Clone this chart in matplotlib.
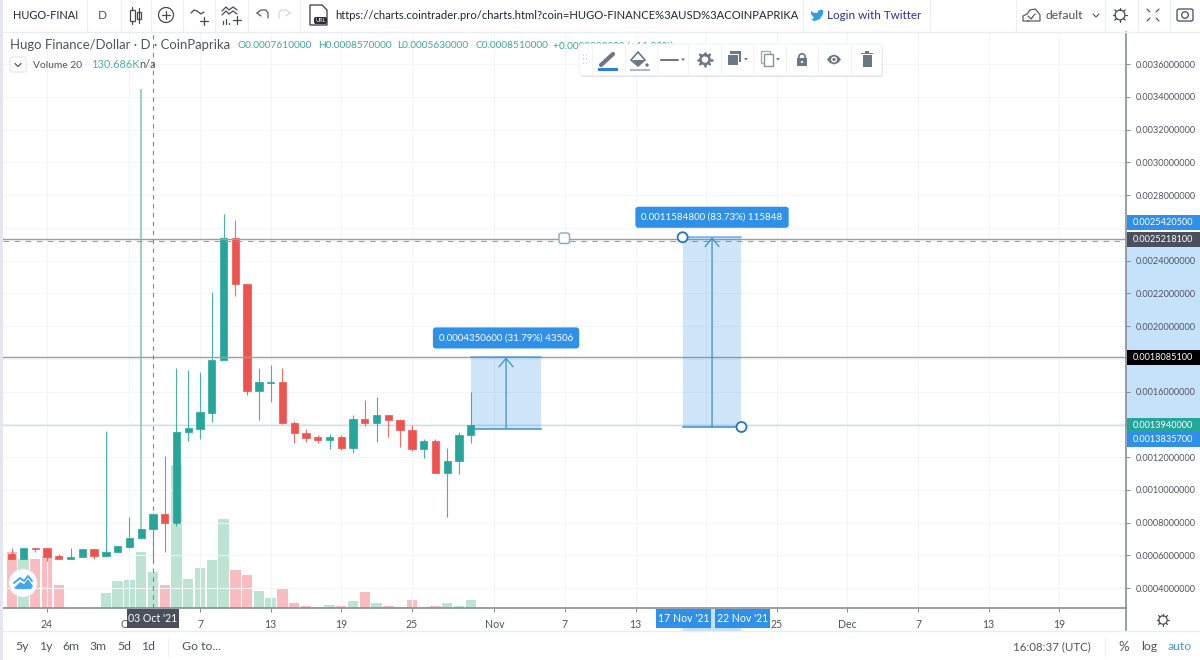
# -*- coding: utf-8 -*-
""" Hugo Finance / Dollar daily candles, screenshot of a trading chart page. """
import matplotlib
matplotlib.use("Agg")
import matplotlib.pyplot as plt
import numpy as np
from matplotlib.patches import Circle, FancyBboxPatch, Polygon, Rectangle

plt.rcParams['font.family'] = ['Lato', 'DejaVu Sans']

# days counted from 24 Sep 2021, prices in millionths of a dollar
days = list(range(-3, 37))
opens = [608, 577, 646, 644, 595, 577, 589, 640, 597, 620, 652, 704, 761, 851, 795, 1353, 1373, 1471, 1792, 2537,
         2256, 1603, 1652, 1660, 1409, 1348, 1320, 1304, 1320, 1255, 1432, 1409, 1457, 1426, 1365, 1247, 1296, 1104,
         1174, 1334]
highs = [644, 646, 646, 646, 608, 644, 640, 640, 1361, 656, 835, 3447, 857, 1206, 1744, 1731, 1719, 2209, 2684, 2647,
         2256, 1744, 1762, 1745, 1422, 1371, 1334, 1340, 1334, 1457, 1548, 1565, 1457, 1434, 1395, 1308, 1308, 1255,
         1355, 1599]
lows = [577, 577, 620, 565, 577, 577, 589, 577, 597, 620, 646, 699, 563, 622, 779, 1298, 1310, 1414, 1792, 2183,
        1579, 1426, 1536, 1402, 1287, 1292, 1286, 1249, 1243, 1226, 1389, 1292, 1322, 1263, 1238, 1194, 1104, 834,
        1096, 1286]
closes = [577, 646, 638, 589, 577, 589, 640, 597, 620, 656, 707, 762, 851, 795, 1355, 1377, 1475, 1792, 2537, 2256,
          1603, 1658, 1658, 1409, 1348, 1318, 1304, 1320, 1255, 1430, 1408, 1457, 1424, 1363, 1247, 1296, 1104, 1174,
          1334, 1394]
# volume in thousands
volumes = [202, 176, 175, 191, 83, 0, 0, 0, 55, 98, 101, 202, 131, 83, 515, 104, 145, 173, 320, 137,
           119, 61, 36, 68, 18, 7, 4, 11, 7, 26, 59, 18, 8, 4, 29, 4, 8, 19, 8, 29]

price_ticks = [0.0004, 0.0006, 0.0008, 0.0010, 0.0012, 0.0014, 0.0016, 0.0018, 0.0020, 0.0022, 0.0024, 0.0026,
               0.0028, 0.0030, 0.0032, 0.0034, 0.0036]
# these three sit behind the price tags in the screenshot
hidden_price_ticks = [0.0014, 0.0018, 0.0026]
date_ticks = [0, 7, 13, 19, 25, 31, 38, 44, 50, 56, 62, 68, 74, 80, 86]
date_labels = ['24', 'Oct', '7', '13', '19', '25', 'Nov', '7', '13', '', '25', 'Dec', '7', '13', '19']

# the two price range drawings
range_a = (36, 42, 0.00137345, 0.00180851)
range_b = (54, 59, 0.00138357, 0.00254205)
range_a_text = '0.0004350600 (31.79%) 43506'
range_b_text = '0.0011584800 (83.73%) 115848'
line_high = 0.002534
line_mid = 0.00180851
crosshair_price = 0.00252181
last_price = 0.001394
crosshair_day = 9

UP = '#26a69a'
DOWN = '#ef5350'
UP_VOL = '#bde3d3'
DOWN_VOL = '#f9bcc1'
BLUE = '#2e90e8'
LINE_BLUE = '#3b8fd3'
TEXT = '#50535e'
ICON = '#6b7785'
BORDER = '#878c95'
W, H = 1200, 660

fig = plt.figure(figsize=(W / 100, H / 100), dpi=100, facecolor='white')
rect = [3 / W, (H - 608) / H, 1123 / W, 576 / H]

# volume goes in its own axes underneath the candles
ax_vol = fig.add_axes(rect, zorder=1)
ax = fig.add_axes(rect, zorder=2)
ax.patch.set_visible(False)
xlim = (-3.74, 91.67)
ax_vol.set_xlim(xlim)
ax_vol.set_ylim(0, 2074)
ax_vol.axis('off')
ax.set_xlim(xlim)
ax.set_ylim(0.000278, 0.0037956)

is_up = [c >= o for o, c in zip(opens, closes)]
ax_vol.bar(days, volumes, width=0.88, color=[UP_VOL if u else DOWN_VOL for u in is_up], linewidth=0)

o = np.array(opens) / 1e6
h = np.array(highs) / 1e6
l = np.array(lows) / 1e6
c = np.array(closes) / 1e6
colors = [UP if u else DOWN for u in is_up]
# the very tall wick looks wider and paler in the screenshot
wick_colors = list(colors)
wick_colors[11] = '#8cc9c2'
wick_widths = [0.8] * len(days)
wick_widths[11] = 1.5
ax.vlines(days, l, h, colors=wick_colors, linewidth=wick_widths, alpha=0.85, zorder=3)
ax.bar(days, c - o, bottom=o, width=0.62, color=colors, edgecolor=colors, linewidth=0.5, zorder=4)

# grid and axes
ax.set_axisbelow(True)
ax.yaxis.tick_right()
ax.set_yticks(price_ticks)
ax.set_yticklabels(['' if p in hidden_price_ticks else '%.10f' % p for p in price_ticks])
ax.set_xticks(date_ticks)
ax.set_xticklabels(date_labels)
ax.grid(True, color='#f3f5f8', linewidth=0.8)
ax.tick_params(axis='y', length=3, width=0.7, color=BORDER, labelcolor=TEXT, labelsize=6.6, pad=4)
ax.tick_params(axis='x', length=3, width=0.7, color=BORDER, labelcolor=TEXT, labelsize=7.6, pad=5)
for name in ['left', 'top']:
    ax.spines[name].set_visible(False)
for name in ['right', 'bottom']:
    ax.spines[name].set_color(BORDER)
    ax.spines[name].set_linewidth(1.2)

# light band on the price scale behind the tick labels
ax.add_patch(Rectangle((1, range_b[2]), 74 / 1123, range_b[3] - range_b[2], transform=ax.get_yaxis_transform(),
                       facecolor='#c6e2fb', edgecolor='none', clip_on=False, zorder=0.2))

# horizontal lines and crosshair
ax.axhline(line_high, color='#9a9ea6', linewidth=1.0, zorder=5)
ax.axhline(line_mid, color='#9a9ea6', linewidth=1.0, zorder=5)
ax.axhline(crosshair_price, color='#9a9ea6', linewidth=0.8, dashes=(5, 5), zorder=5)
ax.axhline(last_price, color='#c4e4e1', linewidth=1.0, zorder=2)
ax.axvline(crosshair_day, color='#80858e', linewidth=0.8, dashes=(4, 4), zorder=5)

# the price range drawings
for x0, x1, bottom, top in [range_a, range_b]:
    ax.add_patch(Rectangle((x0, bottom), x1 - x0, top - bottom, facecolor='#1e88e5', alpha=0.21, linewidth=0, zorder=6))
    ax.plot([x0, x1], [bottom, bottom], color=LINE_BLUE, linewidth=1.1, zorder=7)
    ax.plot([x0, x1], [top, top], color=LINE_BLUE, linewidth=1.1, alpha=0.7, zorder=7)
    mid = (x0 + x1) / 2
    ax.annotate('', xy=(mid, top), xytext=(mid, bottom), zorder=7,
                arrowprops=dict(arrowstyle='->,head_length=0.6,head_width=0.5', color=LINE_BLUE, lw=0.9,
                                shrinkA=0, shrinkB=0))

for (x0, x1, bottom, top), label, dy in [(range_a, range_a_text, 14.0), (range_b, range_b_text, 14.4)]:
    ax.annotate(label, xy=((x0 + x1) / 2, top), xytext=(0, dy), textcoords='offset points', ha='center', va='center',
                color='white', fontsize=7.0, zorder=9,
                bbox=dict(boxstyle='round,pad=0.62,rounding_size=0.3', facecolor=BLUE, edgecolor='none'))

# everything else on the page is drawn in pixel coordinates on top
ui = fig.add_axes([0, 0, 1, 1], zorder=5)
ui.set_xlim(0, W)
ui.set_ylim(H, 0)
ui.axis('off')


def py(price):
    return H - ax.transData.transform((0, price))[1]


def px(day):
    return ax.transData.transform((day, 0))[0]


def box(x0, y0, x1, y1, color, **kw):
    ui.add_patch(Rectangle((x0, y0), x1 - x0, y1 - y0, facecolor=color, edgecolor='none', **kw))


def line(xs, ys, color=ICON, lw=1.0, **kw):
    ui.plot(xs, ys, color=color, linewidth=lw, solid_capstyle='round', **kw)


def txt(x, y, s, color=TEXT, size=8.5, ha='left', **kw):
    ui.text(x, y, s, color=color, fontsize=size, ha=ha, va='center', **kw)


def gear(x, y, r, color=ICON, lw=1.0):
    ui.add_patch(Circle((x, y), r * 0.7, facecolor='none', edgecolor=color, linewidth=lw * 1.3))
    for a in np.arange(0, 2 * np.pi, np.pi / 4):
        line([x + r * 0.7 * np.cos(a), x + r * 1.05 * np.cos(a)], [y + r * 0.7 * np.sin(a), y + r * 1.05 * np.sin(a)],
             color, lw * 1.3)


def caret(x, y, color=ICON):
    ui.add_patch(Polygon([(x - 2, y - 1), (x + 2, y - 1), (x, y + 1.5)], facecolor=color, edgecolor='none'))


# left strip, top bar
box(0, 0, 3, H, '#e4e6f2')
box(3, 0, W, 31, 'white')
line([3, W], [31.5, 31.5], '#e9ecf3', 1.0)
for x in [86.5, 120.5, 151, 182.5, 215, 248, 300, 803, 930, 1016, 1105, 1138, 1170]:
    line([x, x], [0, 31], '#eef0f4', 0.9)
txt(13, 15.5, 'HUGO-FINAI', '#1f2430', 7.9)
txt(102, 15.5, 'D', TEXT, 8.6, ha='center')
# candle icon
ui.add_patch(Rectangle((130, 10), 4.5, 11, facecolor='none', edgecolor='#444a55', linewidth=0.9))
line([132.2, 132.2], [7, 10], '#444a55', 0.9)
line([132.2, 132.2], [21, 24], '#444a55', 0.9)
ui.add_patch(Rectangle((136.5, 12), 4.5, 7, facecolor='none', edgecolor='#444a55', linewidth=0.9))
line([138.7, 138.7], [8, 23], '#444a55', 0.9)
# add circle
ui.add_patch(Circle((166, 15), 7.5, facecolor='none', edgecolor='#444a55', linewidth=0.9))
line([162, 170], [15, 15], '#444a55', 0.9)
line([166, 166], [11, 19], '#444a55', 0.9)
# compare and indicators icons
line([191, 194, 197, 201, 204], [13, 10, 11, 14, 12], '#444a55', 0.9)
line([200, 208], [21, 21], '#444a55', 0.9)
line([204, 204], [17, 25], '#444a55', 0.9)
line([222, 226, 229, 233, 237], [11, 7, 10, 7, 10], '#444a55', 0.9)
line([222, 226, 229, 233, 237], [15, 11, 14, 11, 14], '#444a55', 0.9)
for x, t in [(223, 21), (226, 19), (229, 23)]:
    line([x, x], [t, 24], '#444a55', 0.9)
line([233, 241], [20, 20], '#444a55', 0.9)
line([237, 237], [16, 24], '#444a55', 0.9)
# undo, redo
line([257, 261, 266, 268, 268], [13, 10, 10, 13, 18], '#555b66', 0.9)
line([257, 261], [13, 16], '#555b66', 0.9)
line([290, 286, 281, 279, 279], [13, 10, 10, 13, 18], '#d5d8dd', 0.9)
line([290, 286], [13, 16], '#d5d8dd', 0.9)
# url file icon
ui.add_patch(Polygon([(310, 5), (322, 5), (327, 10), (327, 25), (310, 25)], facecolor='none', edgecolor='#333842',
                     linewidth=0.9))
ui.add_patch(FancyBboxPatch((314, 17), 13, 7, boxstyle='round,pad=0,rounding_size=2', facecolor='#2b2f38',
                            edgecolor='none'))
txt(320.5, 20.5, 'URL', 'white', 4, ha='center')
txt(335, 15.5, 'https://charts.cointrader.pro/charts.html?coin=HUGO-FINANCE%3AUSD%3ACOINPAPRIKA', '#1f2430', 8.1)
# twitter bird, roughly
ui.add_patch(Polygon([(811, 11), (814, 13), (817, 13), (819, 10), (823, 10), (823, 14), (820, 19), (815, 21), (811, 20),
                      (814, 18), (811, 14)], facecolor='#2f9fe0', edgecolor='none'))
txt(827, 15.5, 'Login with Twitter', '#2b2f9a', 8.35)
# cloud
line([1028, 1023, 1023, 1027, 1030, 1035, 1038, 1040, 1040, 1028], [21, 21, 16, 14, 10, 9, 12, 15, 21, 21],
     '#444a55', 0.8)
line([1028, 1031, 1035], [16, 19, 14], '#444a55', 0.8)
txt(1045, 15.5, 'default', TEXT, 8.7)
line([1093, 1096, 1099], [14, 17, 14], '#50535e', 0.8)
gear(1120, 15, 7, '#444a55', 0.7)
for sx, sy in [(-1, -1), (1, -1), (-1, 1), (1, 1)]:
    line([1153 + sx * 3, 1153 + sx * 6], [15 + sy * 3, 15 + sy * 6], '#444a55', 0.8)
ui.add_patch(FancyBboxPatch((1177, 9), 16, 12, boxstyle='round,pad=0,rounding_size=2', facecolor='none',
                            edgecolor='#444a55', linewidth=0.9))
ui.add_patch(Circle((1185, 15), 3.3, facecolor='none', edgecolor='#444a55', linewidth=0.9))

# chart legend
txt(10, 45, 'Hugo Finance/Dollar · D · CoinPaprika', TEXT, 9.45)
ohlc = [(238, 'O0.0007610000'), (318, 'H0.0008570000'), (397, 'L0.0005630000'), (475, 'C0.0008510000')]
for x, s in ohlc:
    txt(x, 46, s, '#3fa79b', 7.3)
# runs on under the floating toolbar
txt(553, 46, '+0.0000900000 (+11.83%)', '#3fa79b', 7.3, zorder=0.5)
ui.add_patch(FancyBboxPatch((10, 57), 16, 15, boxstyle='round,pad=0,rounding_size=2', facecolor='white',
                            edgecolor='#e3e5ea', linewidth=0.8))
line([15, 18, 21], [63.5, 66.5, 63.5], TEXT, 0.9)
txt(33, 65, 'Volume 20', TEXT, 7.4)
txt(91, 65, '130.686K', '#4fb49a', 7.9)
txt(139, 65, 'n/a', TEXT, 7.9)

# floating drawing toolbar
ui.add_patch(FancyBboxPatch((580, 46), 303, 31, boxstyle='round,pad=0,rounding_size=3', facecolor='#000000',
                            alpha=0.10, edgecolor='none'))
ui.add_patch(FancyBboxPatch((579, 44), 303, 31.5, boxstyle='round,pad=0,rounding_size=3', facecolor='white',
                            edgecolor='#eef0f3', linewidth=0.6))
for x in [592, 625, 657, 688, 721, 753, 786, 818, 851]:
    line([x, x], [45, 75], '#f1f3f6', 0.8)
for dx in [583.5, 586.5]:
    for dy in [55, 59, 63]:
        ui.add_patch(Circle((dx, dy), 0.7, facecolor='#c6cad0', edgecolor='none'))
line([601, 613], [65, 54], ICON, 3.0)
box(598, 68, 618, 71, '#2b7fd4')
ui.add_patch(Polygon([(638, 52), (645, 60), (638, 66), (631, 60)], facecolor='white', edgecolor=ICON, linewidth=1.2))
ui.add_patch(Polygon([(632.5, 60), (644, 60), (638, 65.5)], facecolor=ICON, edgecolor='none'))
ui.add_patch(Circle((647, 65), 1.7, facecolor=ICON, edgecolor='none'))
box(630, 69, 650, 71, '#a9b6cf')
line([661, 678], [59.5, 59.5], ICON, 1.5)
caret(683, 59.5)
gear(705, 59.5, 6.5, ICON, 1.4)
box(730, 51, 741, 62, ICON)
ui.add_patch(Rectangle((727, 54), 11, 11, facecolor=ICON, edgecolor='white', linewidth=0.7))
caret(746, 59)
ui.add_patch(Rectangle((761, 51), 9, 12, facecolor='white', edgecolor='#a5acb5', linewidth=1.0))
ui.add_patch(Rectangle((764, 54), 9, 12, facecolor='white', edgecolor='#8a929c', linewidth=1.0))
caret(778, 59)
box(797, 58, 807, 66, ICON)
ui.add_patch(Circle((802, 57), 3.2, facecolor='none', edgecolor=ICON, linewidth=1.2))
ui.add_patch(Circle((802, 62), 1.1, facecolor='white', edgecolor='none'))
ui.add_patch(Polygon([(827, 59.5), (830, 56), (834, 54.5), (838, 56), (841, 59.5), (838, 63), (834, 64.5), (830, 63)],
                     facecolor=ICON, edgecolor='none'))
ui.add_patch(Circle((834, 59.5), 3, facecolor='white', edgecolor='none'))
ui.add_patch(Circle((834, 59.5), 1.6, facecolor=ICON, edgecolor='none'))
box(862.5, 55, 871.5, 67, ICON)
box(861, 52.5, 873, 54, ICON)
box(865, 51, 869, 53, ICON)

# handles on the drawings
ui.add_patch(FancyBboxPatch((559, 233), 10.5, 10.5, boxstyle='round,pad=0,rounding_size=2.5', facecolor='white',
                            edgecolor='#7fa9cf', linewidth=1.0, zorder=5))
ui.add_patch(Circle((px(range_b[0]), py(range_b[3])), 5, facecolor='white', edgecolor='#1f77c4', linewidth=1.3, zorder=5))
ui.add_patch(Circle((px(range_b[1]), py(range_b[2])), 5, facecolor='white', edgecolor='#1f77c4', linewidth=1.3, zorder=5))

# price scale tags, some pushed off their price so they do not overlap
tags = [(range_b[3], -14.3, BLUE, 'white'), (crosshair_price, -0.7, '#4a4f5b', 'white'), (line_mid, 0, '#000000', 'white'),
        (last_price, 0, UP, 'white'), (range_b[2], 13, BLUE, 'white')]
for price, shift, bg, fg in tags:
    y = py(price) + shift
    box(1127, y - 7.5, W, y + 7.5, bg, zorder=3)
    txt(1133, y, '%.10f' % price, fg, 6.6, zorder=4)

# labels on the time scale
box(px(range_b[0]), 608.5, px(range_b[1]), 631, '#c6e2fb')
for day, width, bg, s in [(crosshair_day, 52, '#4a4f5b', "03 Oct '21"), (54, 55, BLUE, "17 Nov '21"),
                          (59, 55, BLUE, "22 Nov '21")]:
    x = px(day)
    if day == 54:
        x = x + 1
    if day == 59:
        x = x + 1
    box(x - width / 2, 608.5, x + width / 2, 628, bg)
    txt(x, 618, s, 'white', 7.6, ha='center')
gear(1163, 620, 6, '#50535e', 0.7)
line([1126, 1126], [608, 631], BORDER, 1.2)

# logo
ui.add_patch(Circle((23, 583), 14, facecolor='white', edgecolor='#e6e8ec', linewidth=0.8))
ui.add_patch(Polygon([(14, 588), (20, 582), (24, 584), (28, 579), (33, 586), (31, 589), (16, 589)],
                     facecolor='#42a5f0', edgecolor='none'))
line([14, 20, 24, 28, 32], [583, 578, 581, 576, 581], '#42a5f0', 1.4)

# bottom bar
line([3, W], [631, 631], '#e9ecf3', 1.0)
for x, s in [(22, '5y'), (45.7, '1y'), (70.7, '6m'), (98, '3m'), (124, '5d'), (148, '1d')]:
    txt(x, 647, s, TEXT, 8.8, ha='center')
line([168, 168], [638, 656], '#eef0f4', 0.9)
txt(182, 647, 'Go to...', TEXT, 8.8)
txt(1013, 647, '16:08:37 (UTC)', TEXT, 8.3)
line([1105, 1105], [638, 656], '#eef0f4', 0.9)
txt(1124, 647, '%', TEXT, 9.5, ha='center')
txt(1149, 647, 'log', TEXT, 8.8, ha='center')
txt(1180, 647, 'auto', '#4a9ad8', 8.8, ha='center')

fig.savefig('out.png', dpi=100)
